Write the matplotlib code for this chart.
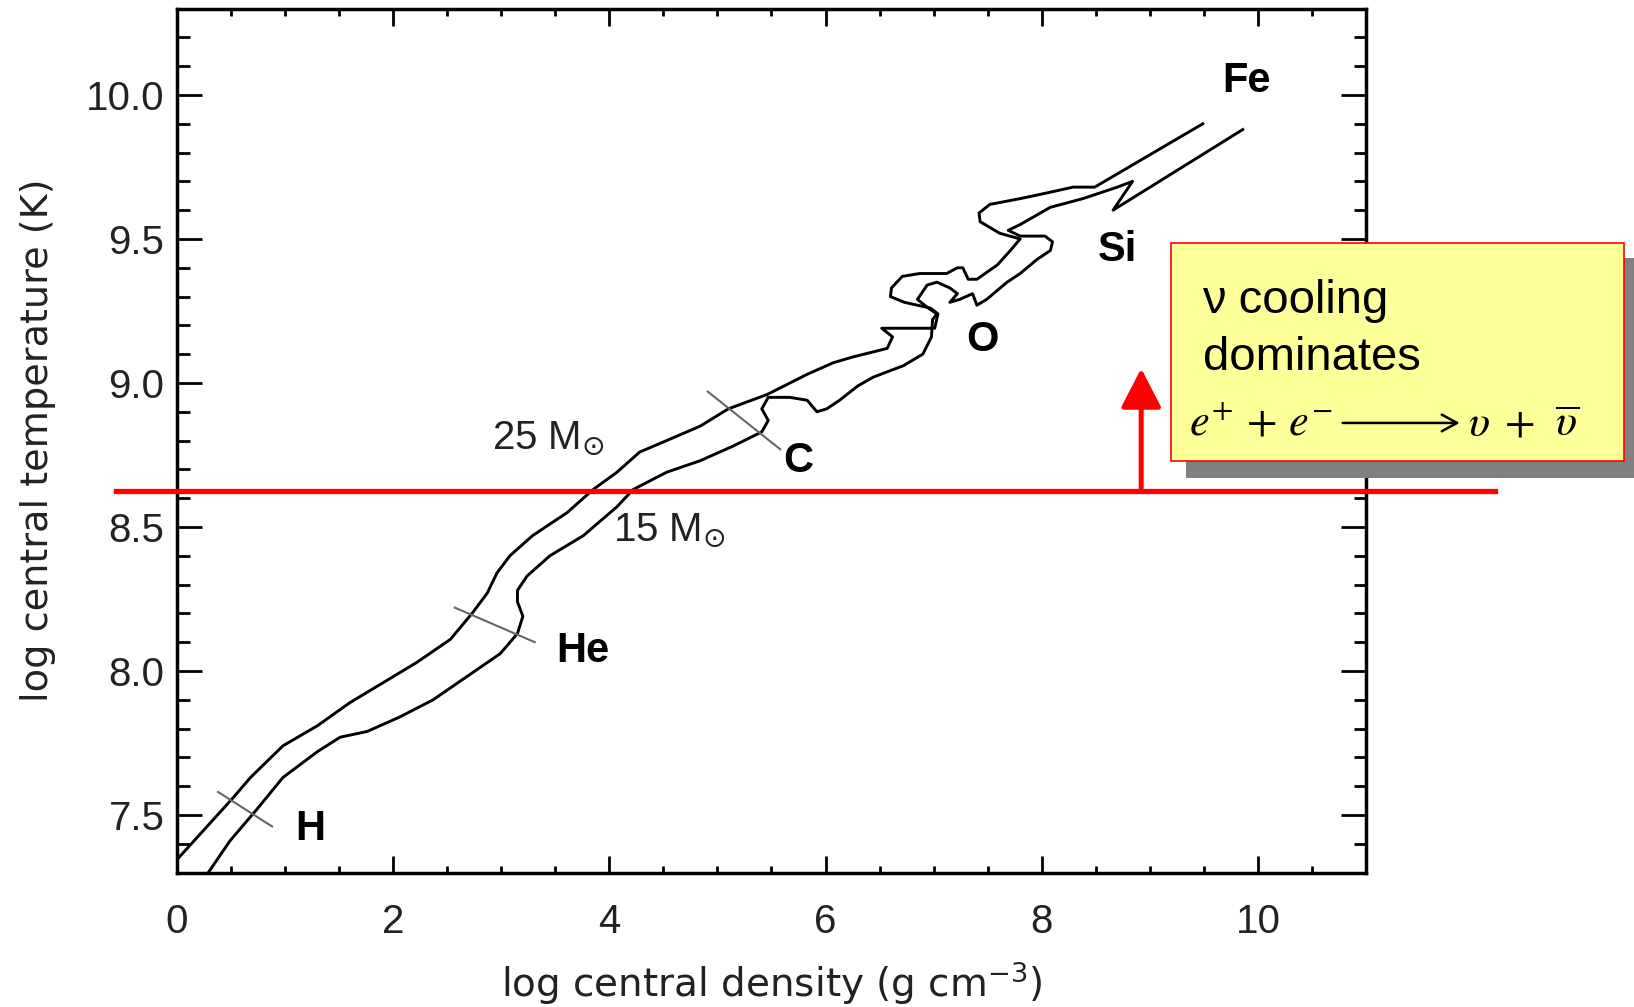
# Central temperature vs central density for 25 and 15 solar mass stars

import matplotlib
matplotlib.use("Agg")
import matplotlib.pyplot as plt
from matplotlib.ticker import MultipleLocator
from matplotlib.patches import Rectangle, FancyArrowPatch

# 25 Msun track (log rho_c, log T_c)
track25_x = [-0.06, 0.52, 0.68, 0.98, 1.30, 1.60, 1.91, 2.22, 2.53, 2.73, 2.87, 2.96, 3.08,
             3.29, 3.61, 3.85, 4.07, 4.28, 4.53, 4.84, 5.10, 5.46, 5.83, 6.07, 6.25, 6.57,
             6.62, 6.52, 7.01, 7.04, 6.97, 6.73, 6.60, 6.61, 6.71, 6.87, 7.12, 7.22, 7.27,
             7.32, 7.40, 7.59, 7.71, 7.80, 7.61, 7.43, 7.42, 7.52, 7.80, 8.05, 8.29, 8.49, 9.49]
track25_y = [7.32, 7.56, 7.63, 7.74, 7.81, 7.89, 7.96, 8.03, 8.11, 8.20, 8.27, 8.34, 8.40,
             8.47, 8.55, 8.63, 8.69, 8.76, 8.80, 8.85, 8.91, 8.96, 9.03, 9.07, 9.09, 9.12,
             9.16, 9.19, 9.19, 9.24, 9.26, 9.28, 9.30, 9.33, 9.37, 9.38, 9.38, 9.40, 9.40,
             9.36, 9.36, 9.41, 9.46, 9.50, 9.52, 9.56, 9.59, 9.62, 9.64, 9.66, 9.68, 9.68, 9.90]

# 15 Msun track
track15_x = [0.21, 0.29, 0.49, 0.74, 0.98, 1.30, 1.51, 1.76, 2.06, 2.37, 2.68, 2.99, 3.15,
             3.20, 3.15, 3.15, 3.24, 3.45, 3.76, 4.07, 4.22, 4.53, 4.84, 5.14, 5.41, 5.47,
             5.41, 5.47, 5.67, 5.83, 5.92, 6.01, 6.13, 6.30, 6.44, 6.72, 6.90, 6.98, 6.99,
             7.03, 6.95, 6.85, 6.94, 7.03, 7.15, 7.22, 7.15, 7.24, 7.36, 7.40, 7.49, 7.68,
             7.80, 7.96, 8.08, 8.10, 8.03, 7.80, 7.69, 7.80, 8.08, 8.38, 8.70, 8.84, 8.66, 9.86]
track15_y = [7.27, 7.30, 7.41, 7.52, 7.63, 7.72, 7.77, 7.79, 7.84, 7.90, 7.98, 8.06, 8.13,
             8.19, 8.24, 8.28, 8.33, 8.40, 8.47, 8.57, 8.63, 8.69, 8.73, 8.78, 8.83, 8.87,
             8.91, 8.95, 8.95, 8.94, 8.90, 8.91, 8.94, 8.99, 9.02, 9.06, 9.10, 9.16, 9.22,
             9.24, 9.26, 9.29, 9.34, 9.35, 9.33, 9.31, 9.28, 9.29, 9.31, 9.27, 9.29, 9.35,
             9.38, 9.43, 9.46, 9.49, 9.51, 9.51, 9.53, 9.55, 9.61, 9.64, 9.68, 9.70, 9.60, 9.88]

# ignition markers joining the two tracks
marker_x = [[0.38, 0.88], [2.57, 3.31], [4.91, 5.58]]
marker_y = [[7.58, 7.46], [8.22, 8.10], [8.97, 8.77]]

# burning stage labels
stage_names = ["H", "He", "C", "O", "Si", "Fe"]
stage_x = [1.23, 3.75, 5.75, 7.45, 8.70, 9.89]
stage_y = [7.45, 8.07, 8.73, 9.15, 9.46, 10.05]

mass_labels = [r"25 M$_{\odot}$", r"15 M$_{\odot}$"]
mass_x = [2.91, 4.03]
mass_y = [8.81, 8.49]

# neutrino cooling threshold
nu_logT = 8.625
line_x = [-0.56, 12.19]
arrow_x = 8.92
arrow_top = 9.06

fig = plt.figure(figsize=(16.34, 10.07), dpi=100)
ax = fig.add_axes([0.1083, 0.1335, 0.7277, 0.858])

ax.plot(track25_x, track25_y, color="black", lw=2.1, solid_joinstyle="round")
ax.plot(track15_x, track15_y, color="black", lw=2.1, solid_joinstyle="round")
for mx, my in zip(marker_x, marker_y):
    ax.plot(mx, my, color="#666666", lw=1.5)

for name, x, y in zip(stage_names, stage_x, stage_y):
    ax.text(x, y, name, fontsize=30, fontweight="bold", family="Liberation Sans",
            ha="center", va="center")
for lab, x, y in zip(mass_labels, mass_x, mass_y):
    ax.text(x, y, lab, fontsize=29, family="Liberation Sans", ha="left", va="center",
            color="#222222", math_fontfamily="dejavusans")

# red threshold line and arrow
ax.plot(line_x, [nu_logT, nu_logT], color="red", lw=3.8, clip_on=False, zorder=5)
arr = FancyArrowPatch((arrow_x, nu_logT), (arrow_x, arrow_top),
                      arrowstyle="-|>,head_length=1.2,head_width=0.62",
                      mutation_scale=20, color="red", lw=3.6, zorder=5)
ax.add_patch(arr)

ax.set_xlim(0, 11)
ax.set_ylim(7.3, 10.3)
ax.xaxis.set_major_locator(MultipleLocator(2))
ax.xaxis.set_minor_locator(MultipleLocator(0.5))
ax.yaxis.set_major_locator(MultipleLocator(0.5))
ax.yaxis.set_minor_locator(MultipleLocator(0.1))
ax.tick_params(which="both", direction="in", top=True, right=True, width=2)
ax.tick_params(axis="x", which="major", length=12, pad=22)
ax.tick_params(axis="x", which="minor", length=5)
ax.tick_params(axis="y", which="major", length=18, pad=9)
ax.tick_params(axis="y", which="minor", length=9)
for lab in ax.get_xticklabels() + ax.get_yticklabels():
    lab.set_family("Liberation Sans")
    lab.set_fontsize(29)
    lab.set_color("#222222")
ax.yaxis.set_major_formatter(plt.FormatStrFormatter("%.1f"))
for sp in ax.spines.values():
    sp.set_linewidth(2.5)

ax.set_xlabel(r"log central density (g cm$^{-3}$)", fontsize=28, va="center",
              color="#222222")
ax.xaxis.set_label_coords(0.5, -0.128)
ax.set_ylabel("log central temperature (K)", fontsize=27.5, va="center", color="#222222")
ax.yaxis.set_label_coords(-0.117, 0.5)

# yellow callout box with shadow
fig.add_artist(Rectangle((0.7258, 0.5253), 0.30, 0.2185, transform=fig.transFigure,
                         facecolor="#808080", edgecolor="none", zorder=10))
fig.add_artist(Rectangle((0.7167, 0.5422), 0.2772, 0.2165, transform=fig.transFigure,
                         facecolor="#FFFF99", edgecolor="red", lw=1.2, zorder=11))
fig.text(0.7356, 0.689, "\u03bd cooling", fontsize=34, family="Liberation Sans",
         va="baseline", zorder=12)
fig.text(0.7362, 0.6326, "dominates", fontsize=34, family="Liberation Sans",
         va="baseline", zorder=12)
fig.text(0.7277, 0.568, r"$e^{+}\,+\,e^{-}$", fontsize=32, math_fontfamily="stix",
         va="baseline", zorder=12)
fig.add_artist(FancyArrowPatch((0.8200, 0.580), (0.8950, 0.580), transform=fig.transFigure,
                               arrowstyle="->,head_length=0.55,head_width=0.3",
                               mutation_scale=20, color="black", lw=1.8, zorder=12))
fig.text(0.8985, 0.568, r"$\upsilon\;+\;\,\overline{\upsilon}$", fontsize=32,
         math_fontfamily="stix", va="baseline", zorder=12)

fig.savefig("out.png", dpi=100)
